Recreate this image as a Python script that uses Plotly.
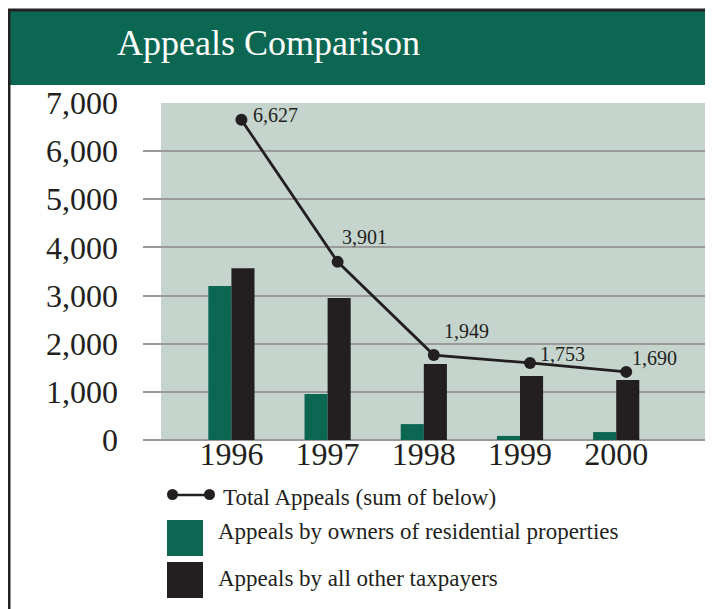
import plotly.graph_objects as go

years = ["1996", "1997", "1998", "1999", "2000"]
residential = [3200, 955, 330, 85, 165]
other_taxpayers = [3570, 2950, 1580, 1330, 1245]
total_plotted = [6650, 3700, 1765, 1600, 1415]
total_labels = ["6,627", "3,901", "1,949", "1,753", "1,690"]

green = "#0b6652"
dark = "#231f20"
serif = "Liberation Serif"

# page is drawn with an 8px body margin, so work in page pixels and shift back
O = 8
W, H = 713 - O, 609 - O
L, R, T, B = 143, 713, 103, 440


def px_x(x):
    return (x - L) / (R - L)


def px_y(y):
    return (B - y) / (B - T)


fig = go.Figure()
fig.add_trace(go.Bar(x=years, y=residential, marker_color=green,
                     marker_line_width=0, name="Appeals by owners of residential properties"))
fig.add_trace(go.Bar(x=years, y=other_taxpayers, marker_color=dark,
                     marker_line_width=0, name="Appeals by all other taxpayers"))
fig.add_trace(go.Scatter(x=years, y=total_plotted, xaxis="x2", mode="lines+markers",
                         line=dict(color=dark, width=2.8),
                         marker=dict(color=dark, size=12),
                         name="Total Appeals (sum of below)"))

# value labels next to the total line (line is drawn 10px right of the group centre)
shifts = [(10, 5), (2, 25), (8, 24), (8, 9), (4, 14)]
for i, (v, lab, (dx, dy)) in enumerate(zip(total_plotted, total_labels, shifts)):
    fig.add_annotation(x=i, y=v, xref="x", yref="y", text=lab, showarrow=False,
                       xanchor="left", yanchor="middle", xshift=dx + 10, yshift=dy,
                       font=dict(family=serif, size=20, color=dark))

shapes = [
    # plot background (starts a little right of the grid lines)
    dict(type="rect", xref="paper", yref="paper", x0=px_x(161), x1=1, y0=0, y1=1,
         fillcolor="#c5d5ce", line_width=0, layer="below"),
    # title band
    dict(type="rect", xref="paper", yref="paper", x0=px_x(9), x1=px_x(713),
         y0=px_y(85), y1=px_y(11), fillcolor=green, line_width=0),
    dict(type="line", xref="paper", yref="paper", x0=px_x(8), x1=px_x(713),
         y0=px_y(10), y1=px_y(10), line=dict(color="#222222", width=3)),
    dict(type="line", xref="paper", yref="paper", x0=px_x(9), x1=px_x(9),
         y0=px_y(9), y1=px_y(609), line=dict(color="#222222", width=3)),
    # legend swatches
    dict(type="line", xref="paper", yref="paper", x0=px_x(172), x1=px_x(209),
         y0=px_y(495), y1=px_y(495), line=dict(color=dark, width=2.5)),
    dict(type="circle", xref="paper", yref="paper", x0=px_x(167), x1=px_x(178),
         y0=px_y(500), y1=px_y(489), fillcolor=dark, line_width=0),
    dict(type="circle", xref="paper", yref="paper", x0=px_x(204), x1=px_x(215),
         y0=px_y(500), y1=px_y(489), fillcolor=dark, line_width=0),
    dict(type="rect", xref="paper", yref="paper", x0=px_x(167), x1=px_x(203),
         y0=px_y(556), y1=px_y(520), fillcolor=green, line_width=0),
    dict(type="rect", xref="paper", yref="paper", x0=px_x(167), x1=px_x(203),
         y0=px_y(598), y1=px_y(562), fillcolor=dark, line_width=0),
]

legend_items = [
    ("Total Appeals (sum of below)", 221, 497),
    ("Appeals by owners of residential properties", 216, 531),
    ("Appeals by all other taxpayers", 216, 578),
]
for txt, lx, ly in legend_items:
    fig.add_annotation(x=px_x(lx), y=px_y(ly), xref="paper", yref="paper", text=txt,
                       showarrow=False, xanchor="left", yanchor="middle",
                       font=dict(family=serif, size=23, color=dark))

fig.add_annotation(x=px_x(268), y=px_y(43), xref="paper", yref="paper",
                   text="Appeals Comparison", showarrow=False,
                   xanchor="center", yanchor="middle",
                   font=dict(family=serif, size=36, color="white"))

fig.update_layout(
    width=W, height=H,
    margin=dict(l=L - O, r=713 - R, t=T - O, b=609 - B),
    paper_bgcolor="white", plot_bgcolor="white",
    barmode="group", bargap=0.52, bargroupgap=0,
    showlegend=False,
    shapes=shapes,
    xaxis=dict(type="category", range=[-0.919, 5.006], showgrid=False,
               showline=False, ticks="", zeroline=False, ticklabelstandoff=-8,
               tickfont=dict(family=serif, size=32, color=dark)),
    xaxis2=dict(type="category", overlaying="x", range=[-1.023, 4.902],
                visible=False),
    yaxis=dict(range=[0, 7000], tickvals=[0, 1000, 2000, 3000, 4000, 5000, 6000, 7000],
               tickformat=",", showgrid=True, gridcolor="#9a9a9a", gridwidth=2,
               zeroline=True, zerolinecolor="#9a9a9a", zerolinewidth=2,
               showline=False, ticks="", ticklabelstandoff=24,
               tickfont=dict(family=serif, size=32, color=dark)),
)

fig.write_html("out.html")
